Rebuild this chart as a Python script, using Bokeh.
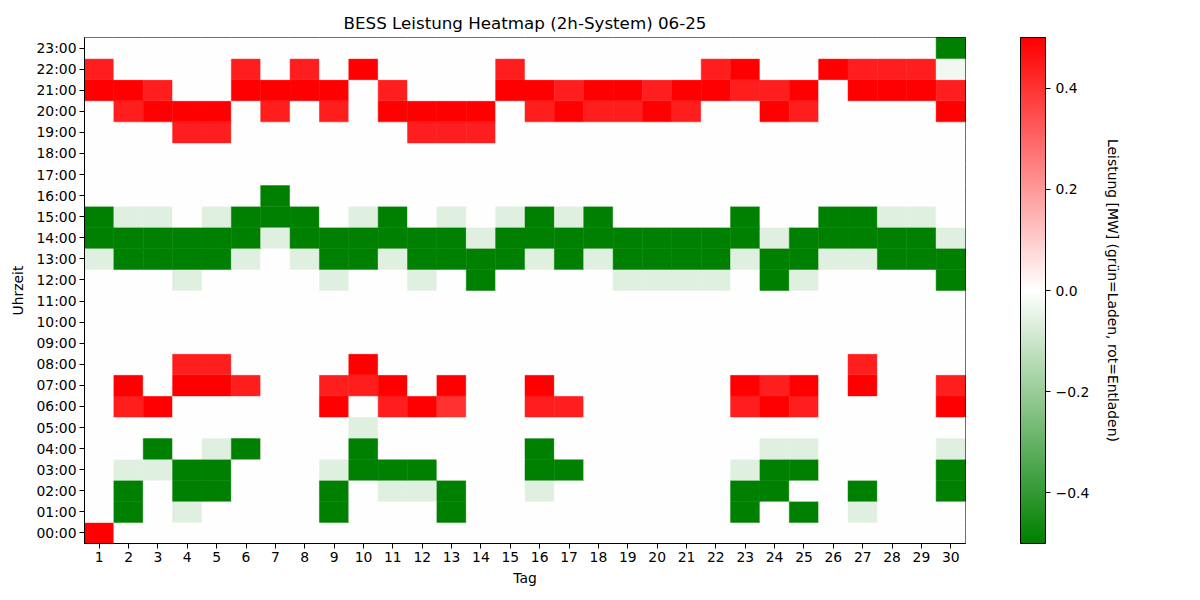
from bokeh.plotting import figure
from bokeh.models import ColumnDataSource, LinearColorMapper, ColorBar, FixedTicker, CategoricalAxis
from bokeh.transform import transform
from bokeh.embed import file_html
from bokeh.resources import INLINE

days = [str(d) for d in range(1, 31)]
hours = ["%02d:00" % h for h in range(24)]

# Leistung [MW] per hour, one value per day (1..30)
h00 = [0.5, 0, 0, 0, 0, 0, 0, 0, 0, 0, 0, 0, 0, 0, 0, 0, 0, 0, 0, 0, 0, 0, 0, 0, 0, 0, 0, 0, 0, 0]
h01 = [0, -0.5, 0, -0.06, 0, 0, 0, 0, -0.5, 0, 0, 0, -0.5, 0, 0, 0, 0, 0, 0, 0, 0, 0, -0.5, 0, -0.5, 0, -0.06, 0, 0, 0]
h02 = [0, -0.5, 0, -0.5, -0.5, 0, 0, 0, -0.5, 0, -0.06, -0.06, -0.5, 0, 0, -0.06, 0, 0, 0, 0, 0, 0, -0.5, -0.5, 0, 0, -0.5, 0, 0, -0.5]
h03 = [0, -0.06, -0.06, -0.5, -0.5, 0, 0, 0, -0.06, -0.5, -0.5, -0.5, 0, 0, 0, -0.5, -0.5, 0, 0, 0, 0, 0, -0.06, -0.5, -0.5, 0, 0, 0, 0, -0.5]
h04 = [0, 0, -0.5, 0, -0.06, -0.5, 0, 0, 0, -0.5, 0, 0, 0, 0, 0, -0.5, 0, 0, 0, 0, 0, 0, 0, -0.06, -0.06, 0, 0, 0, 0, -0.06]
h05 = [0, 0, 0, 0, 0, 0, 0, 0, 0, -0.06, 0, 0, 0, 0, 0, 0, 0, 0, 0, 0, 0, 0, 0, 0, 0, 0, 0, 0, 0, 0]
h06 = [0, 0.44, 0.5, 0, 0, 0, 0, 0, 0.5, 0, 0.44, 0.5, 0.4, 0, 0, 0.44, 0.44, 0, 0, 0, 0, 0, 0.44, 0.5, 0.44, 0, 0, 0, 0, 0.5]
h07 = [0, 0.5, 0, 0.5, 0.5, 0.44, 0, 0, 0.44, 0.44, 0.5, 0, 0.5, 0, 0, 0.5, 0, 0, 0, 0, 0, 0, 0.5, 0.44, 0.5, 0, 0.5, 0, 0, 0.44]
h08 = [0, 0, 0, 0.44, 0.44, 0, 0, 0, 0, 0.5, 0, 0, 0, 0, 0, 0, 0, 0, 0, 0, 0, 0, 0, 0, 0, 0, 0.44, 0, 0, 0]
h09 = [0] * 30
h10 = [0] * 30
h11 = [0] * 30
h12 = [0, 0, 0, -0.06, 0, 0, 0, 0, -0.06, 0, 0, -0.06, 0, -0.5, 0, 0, 0, 0, -0.06, -0.06, -0.06, -0.06, 0, -0.5, -0.06, 0, 0, 0, 0, -0.5]
h13 = [-0.06, -0.5, -0.5, -0.5, -0.5, -0.06, 0, -0.06, -0.5, -0.5, -0.06, -0.5, -0.5, -0.5, -0.5, -0.06, -0.5, -0.06, -0.5, -0.5, -0.5, -0.5, -0.06, -0.5, -0.5, -0.06, -0.06, -0.5, -0.5, -0.5]
h14 = [-0.5, -0.5, -0.5, -0.5, -0.5, -0.5, -0.06, -0.5, -0.5, -0.5, -0.5, -0.5, -0.5, -0.06, -0.5, -0.5, -0.5, -0.5, -0.5, -0.5, -0.5, -0.5, -0.5, -0.06, -0.5, -0.5, -0.5, -0.5, -0.5, -0.06]
h15 = [-0.5, -0.06, -0.06, 0, -0.06, -0.5, -0.5, -0.5, 0, -0.06, -0.5, 0, -0.06, 0, -0.06, -0.5, -0.06, -0.5, 0, 0, 0, 0, -0.5, 0, 0, -0.5, -0.5, -0.06, -0.06, 0]
h16 = [0, 0, 0, 0, 0, 0, -0.5, 0, 0, 0, 0, 0, 0, 0, 0, 0, 0, 0, 0, 0, 0, 0, 0, 0, 0, 0, 0, 0, 0, 0]
h17 = [0] * 30
h18 = [0] * 30
h19 = [0, 0, 0, 0.44, 0.44, 0, 0, 0, 0, 0, 0, 0.44, 0.44, 0.44, 0, 0, 0, 0, 0, 0, 0, 0, 0, 0, 0, 0, 0, 0, 0, 0]
h20 = [0, 0.44, 0.5, 0.5, 0.5, 0, 0.44, 0, 0.44, 0, 0.5, 0.5, 0.5, 0.5, 0, 0.44, 0.5, 0.44, 0.44, 0.5, 0.44, 0, 0, 0.5, 0.44, 0, 0, 0, 0, 0.5]
h21 = [0.5, 0.5, 0.44, 0, 0, 0.5, 0.5, 0.5, 0.5, 0, 0.44, 0, 0, 0, 0.5, 0.5, 0.44, 0.5, 0.5, 0.44, 0.5, 0.5, 0.44, 0.44, 0.5, 0, 0.5, 0.5, 0.5, 0.44]
h22 = [0.44, 0, 0, 0, 0, 0.44, 0, 0.44, 0, 0.5, 0, 0, 0, 0, 0.44, 0, 0, 0, 0, 0, 0, 0.44, 0.5, 0, 0, 0.5, 0.44, 0.44, 0.44, -0.03]
h23 = [0, 0, 0, 0, 0, 0, 0, 0, 0, 0, 0, 0, 0, 0, 0, 0, 0, 0, 0, 0, 0, 0, 0, 0, 0, 0, 0, 0, 0, -0.5]

rows = [h00, h01, h02, h03, h04, h05, h06, h07, h08, h09, h10, h11,
        h12, h13, h14, h15, h16, h17, h18, h19, h20, h21, h22, h23]

xs, ys, vals = [], [], []
for hour, row in zip(hours, rows):
    for day, v in zip(days, row):
        xs.append(day)
        ys.append(hour)
        vals.append(v)
source = ColumnDataSource(data=dict(day=xs, hour=ys, value=vals))

# green -> white -> red, like a LinearSegmentedColormap
def lerp(c1, c2, t):
    return tuple(int(round(a + (b - a) * t)) for a, b in zip(c1, c2))

palette = []
for i in range(256):
    t = i / 255
    if t < 0.5:
        c = lerp((0, 128, 0), (255, 255, 255), t / 0.5)
    else:
        c = lerp((255, 255, 255), (255, 0, 0), (t - 0.5) / 0.5)
    palette.append("#%02x%02x%02x" % c)

mapper = LinearColorMapper(palette=palette, low=-0.5, high=0.5)

FONT = "DejaVu Sans"
SMALL = "13.9px"

p = figure(x_range=days, y_range=hours, frame_width=881, frame_height=506,
           toolbar_location=None, output_backend="svg", tools="",
           min_border_left=84, min_border_top=37, min_border_bottom=41, min_border_right=219)

p.rect(x="day", y="hour", width=1, height=1, source=source,
       fill_color=transform("value", mapper), line_color=transform("value", mapper), line_width=0.5)

p.title.text = "BESS Leistung Heatmap (2h-System) 06-25"
p.title.align = "center"
p.title.text_font = FONT
p.title.text_font_size = "16.7px"
p.title.text_font_style = "normal"
p.title.text_color = "black"

p.grid.grid_line_color = None
p.outline_line_color = "black"
p.outline_line_width = 1

p.xaxis.axis_label = "Tag"
p.yaxis.axis_label = "Uhrzeit"
for ax in (p.xaxis, p.yaxis):
    ax.axis_label_text_font = FONT
    ax.axis_label_text_font_size = SMALL
    ax.axis_label_text_font_style = "normal"
    ax.axis_label_text_color = "black"
    ax.major_label_text_font = FONT
    ax.major_label_text_font_size = SMALL
    ax.major_label_text_color = "black"
    ax.axis_line_color = "black"
    ax.major_tick_line_color = "black"
    ax.major_tick_in = 0
    ax.major_tick_out = 5
    ax.minor_tick_line_color = None
    ax.major_label_standoff = 3
p.xaxis.axis_label_standoff = 5
p.yaxis.axis_label_standoff = 7

# colour bar sits outside the frame, to the right
color_bar = ColorBar(color_mapper=mapper, width=25, height=506,
                     ticker=FixedTicker(ticks=[-0.4, -0.2, 0.0, 0.2, 0.4]),
                     major_label_overrides={-0.4: "\u22120.4", -0.2: "\u22120.2", 0.0: "0.0", 0.2: "0.2", 0.4: "0.4"},
                     major_label_text_font=FONT, major_label_text_font_size=SMALL,
                     major_label_text_color="black",
                     major_tick_in=0, major_tick_out=5, major_tick_line_color="black",
                     bar_line_color="black", padding=0, margin=0,
                     location=(936, 0),
                     background_fill_alpha=0, border_line_color=None)
p.add_layout(color_bar, "center")

# label of the colour bar: an empty axis on the right that only carries its label
cb_axis = CategoricalAxis(ticker=FixedTicker(ticks=[]),
                          axis_label="Leistung [MW] (grün=Laden, rot=Entladen)",
                          axis_label_standoff=139, axis_label_text_font=FONT,
                          axis_label_text_font_size=SMALL, axis_label_text_font_style="normal",
                          axis_label_text_color="black", axis_line_color=None,
                          major_tick_line_color=None, minor_tick_line_color=None)
p.add_layout(cb_axis, "right")

open("out.html", "w").write(file_html(p, INLINE))
